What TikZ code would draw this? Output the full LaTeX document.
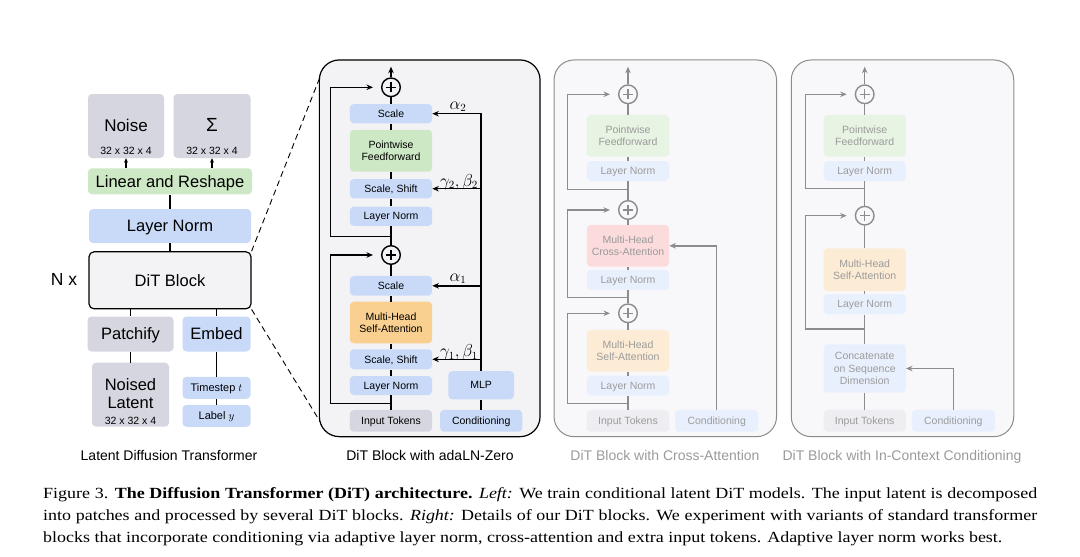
\documentclass[tikz,border=0pt]{standalone}
\usepackage{fontspec}
\setmainfont{Liberation Serif}
\setsansfont{Liberation Sans}
\newfontfamily\capfont{Liberation Serif}[FakeStretch=1.16]
\usetikzlibrary{arrows.meta}
\definecolor{tokgray}{RGB}{214,214,224}
\definecolor{normblue}{RGB}{201,218,249}
\definecolor{ffgreen}{RGB}{205,232,196}
\definecolor{attnorange}{RGB}{250,208,145}
\definecolor{panelfill}{RGB}{243,243,245}
\definecolor{fblue}{RGB}{233,240,253}
\definecolor{fgreen}{RGB}{231,243,227}
\definecolor{fred}{RGB}{251,219,219}
\definecolor{forange}{RGB}{252,236,214}
\definecolor{fgray}{RGB}{238,238,242}
\definecolor{fpanel}{RGB}{248,248,250}
\definecolor{fline}{RGB}{140,140,140}
\definecolor{ftext}{RGB}{155,155,155}
\newcommand{\sz}[1]{\fontsize{#1}{#1}\selectfont}

\begin{document}
\begin{tikzpicture}
[x=1pt,y=-1pt,
every node/.style={font=\sffamily},
base/.style={rounded corners=4pt,inner sep=0pt,align=center,text depth=0pt},
blkbig/.style={base,font=\sffamily\sz{16.5}},
blksmall/.style={base,minimum width=82.3,font=\sffamily\sz{10.5}},
faded/.style={blksmall,text=ftext},
lbl/.style={inner sep=0pt,text depth=0pt},
plus/.style={circle,draw=#1,line width=1.4pt,minimum size=18.6,inner sep=0pt,
  path picture={\draw[#1,line width=1.4pt]
    ([xshift=-5pt]path picture bounding box.center) -- ([xshift=5pt]path picture bounding box.center)
    ([yshift=-5pt]path picture bounding box.center) -- ([yshift=5pt]path picture bounding box.center);}},
plus/.default=black,
link/.style={line width=1.5pt},
arr/.style={link,-{Stealth[length=6.5pt,width=5.5pt]}},
flink/.style={link,draw=fline},
farr/.style={arr,draw=fline},
panel/.style={draw,line width=1.2pt,rounded corners=20pt,fill=panelfill,
  minimum width=220.7,minimum height=376.7},
fpanelbox/.style={panel,draw=fline,fill=fpanel,line width=1pt,minimum width=222.5},
zoomln/.style={dash pattern=on 6pt off 4pt,line width=0.9pt},
capt/.style={anchor=base west,inner sep=0pt,font=\capfont\sz{15.5}}]

\fill [white] (0,0) rectangle (1080,557);
\useasboundingbox (0,0) rectangle (1080,557);

% panels
\node (adaln) [panel] at (429.7,248.3) {};
\node (xpanel) [fpanelbox] at (665.3,248.3) {};
\node (ipanel) [fpanelbox] at (902.5,248.3) {};

% left column
\node (noise) [base,fill=tokgray,minimum width=76,minimum height=64] at (126,126) {};
\node (noiset) [lbl,font=\sffamily\sz{17}] at (126,125.7) {Noise};
\node (noised) [lbl,font=\sffamily\sz{10.5}] at (126,150.7) {32 x 32 x 4};
\node (sigma) [base,fill=tokgray,minimum width=77,minimum height=64] at (212,126) {};
\node (sigmat) [lbl,font=\sffamily\sz{19}] at (212,125) {Σ};
\node (sigmad) [lbl,font=\sffamily\sz{10.5}] at (212,150.7) {32 x 32 x 4};
\node (linear) [blkbig,fill=ffgreen,minimum width=164,minimum height=26] at (170,181.3) {Linear and Reshape};
\node (lnorm) [blkbig,fill=normblue,minimum width=162,minimum height=34] at (170,226) {Layer Norm};
\node (dit) [blkbig,draw,line width=1.2pt,fill=panelfill,minimum width=162,
  minimum height=57,rounded corners=5pt] at (170,280.3) {DiT Block};
\node (nx) [lbl,font=\sffamily\sz{17.5}] at (64,279.5) {N x};
\node (patch) [blkbig,fill=tokgray,minimum width=86,minimum height=35] at (130.5,334) {Patchify};
\node (embed) [blkbig,fill=normblue,minimum width=68,minimum height=35] at (216.5,334) {Embed};
\node (latent) [base,fill=tokgray,minimum width=77,minimum height=64] at (130.5,394.7) {};
\node (latent1) [lbl,font=\sffamily\sz{16.5}] at (130.5,385) {Noised};
\node (latent2) [lbl,font=\sffamily\sz{16.5}] at (130.5,403.3) {Latent};
\node (latentd) [lbl,font=\sffamily\sz{10.5}] at (130.5,420.8) {32 x 32 x 4};
\node (tstep) [base,fill=normblue,minimum width=68,minimum height=22,font=\sffamily\sz{11}]
  at (216.5,387.8) {Timestep $t$};
\node (label) [base,fill=normblue,minimum width=68,minimum height=22,font=\sffamily\sz{11}]
  at (216.5,415.8) {Label $y$};
\node (ltitle) [lbl,font=\sffamily\sz{14}] at (169,455) {Latent Diffusion Transformer};

\draw [arr,-{Stealth[length=4.5pt,width=4pt]}] (noise.south |- linear.north) -- (noise.south);
\draw [arr,-{Stealth[length=4.5pt,width=4pt]}] (sigma.south |- linear.north) -- (sigma.south);
\draw [link] (lnorm) -- (linear);
\draw [link] (dit) -- (lnorm);
\draw [link] (dit.south -| patch) -- (patch);
\draw [link] (dit.south -| embed) -- (embed);
\draw [link] (patch) -- (latent);
\draw [link] (embed) -- (tstep) -- (label);

\coordinate (ztop) at (320,77);
\coordinate (zbot) at (320,421.5);
\draw [zoomln] (dit.north east) -- (ztop);
\draw [zoomln] (dit.south east) -- (zbot);

% adaLN-Zero block
\node (plus2) [plus] at (391,87.3) {};
\node (scale2) [blksmall,fill=normblue,minimum height=19.3] at (391,113.7) {Scale};
\node (ffn) [blksmall,fill=ffgreen,minimum height=41.7] at (391,150.8) {Pointwise\\[2pt]Feedforward};
\node (shift2) [blksmall,fill=normblue,minimum height=19.3] at (391,188.7) {Scale, Shift};
\node (norm2) [blksmall,fill=normblue,minimum height=19.3] at (391,216.3) {Layer Norm};
\node (plus1) [plus] at (391,255) {};
\node (scale1) [blksmall,fill=normblue,minimum height=19.7] at (391,285.8) {Scale};
\node (attn) [blksmall,fill=attnorange,minimum height=41.6] at (391,322.5) {Multi-Head\\[2pt]Self-Attention};
\node (shift1) [blksmall,fill=normblue,minimum height=20] at (391,359.3) {Scale, Shift};
\node (norm1) [blksmall,fill=normblue,minimum height=19] at (391,385.5) {Layer Norm};
\node (tokens) [blksmall,fill=tokgray,minimum height=21.7] at (391,420.8) {Input Tokens};
\node (cond) [blksmall,fill=normblue,minimum height=21.7] at (481.2,420.8) {Conditioning};
\node (mlp) [blksmall,fill=normblue,minimum width=65.7,minimum height=28.3] at (481.2,385.2) {MLP};
\node (atitle) [lbl,font=\sffamily\sz{14}] at (430,455) {DiT Block with adaLN-Zero};

\draw [link] (tokens) -- (norm1) -- (shift1) -- (attn) -- (scale1) -- (plus1)
  -- (norm2) -- (shift2) -- (ffn) -- (scale2) -- (plus2);
\coordinate (out1) at (391,66.7);
\draw [arr] (plus2) -- (out1);
\coordinate (r1) at (391,403.3);
\coordinate (r2) at (391,236.7);
\draw [arr] (r1) -- ++(-60.3,0) |- ([xshift=-8pt]plus1.west);
\draw [arr] (r2) -- ++(-60.3,0) |- ([xshift=-8pt]plus2.west);
\draw [link] (cond) -- (mlp);
\draw [arr] (mlp.north) |- (scale2.east);
\draw [arr] (mlp.north |- shift2.east) -- (shift2.east);
\draw [arr] (mlp.north |- scale1.east) -- (scale1.east);
\draw [arr] (mlp.north |- shift1.east) -- (shift1.east);
\node (a2) [lbl,font=\sz{16}] at (458,105.5) {$\alpha_2$};
\node (gb2) [lbl,font=\sz{16}] at (459,180) {$\gamma_2,\beta_2$};
\node (a1) [lbl,font=\sz{16}] at (458,277.5) {$\alpha_1$};
\node (gb1) [lbl,font=\sz{16}] at (459,350.5) {$\gamma_1,\beta_1$};

% cross-attention block
\node (plusc3) [plus=fline] at (628,94.3) {};
\node (ffnc) [faded,fill=fgreen,minimum height=41.7] at (628,135.8) {Pointwise\\[2pt]Feedforward};
\node (normc3) [faded,fill=fblue,minimum height=20] at (628,171) {Layer Norm};
\node (plusc2) [plus=fline] at (628,210) {};
\node (cross) [faded,fill=fred,minimum height=41.7] at (628,245.8) {Multi-Head\\[2pt]Cross-Attention};
\node (normc2) [faded,fill=fblue,minimum height=20] at (628,280) {Layer Norm};
\node (plusc1) [plus=fline] at (628,313.3) {};
\node (selfc) [faded,fill=forange,minimum height=41.7] at (628,350.8) {Multi-Head\\[2pt]Self-Attention};
\node (normc1) [faded,fill=fblue,minimum height=20] at (628,385.7) {Layer Norm};
\node (tokc) [faded,fill=fgray,minimum height=21.7] at (628,420.8) {Input Tokens};
\node (condc) [faded,fill=fblue,minimum height=21.7,minimum width=83.3] at (716.7,420.8) {Conditioning};
\node (ctitle) [lbl,font=\sffamily\sz{14},text=ftext] at (665,455) {DiT Block with Cross-Attention};

\draw [flink] (tokc) -- (normc1) -- (selfc) -- (plusc1) -- (normc2) -- (cross)
  -- (plusc2) -- (normc3) -- (ffnc) -- (plusc3);
\coordinate (outc) at (628,66.7);
\draw [farr] (plusc3) -- (outc);
\coordinate (rc1) at (628,403.3);
\coordinate (rc2) at (628,297.3);
\coordinate (rc3) at (628,189.3);
\draw [farr] (rc1) -- ++(-60.7,0) |- ([xshift=-8pt]plusc1.west);
\draw [farr] (rc2) -- ++(-60.7,0) |- ([xshift=-8pt]plusc2.west);
\draw [farr] (rc3) -- ++(-60.7,0) |- ([xshift=-8pt]plusc3.west);
\draw [farr] (condc.north) |- (cross.east);

% in-context block
\node (plusi2) [plus=fline] at (864.7,94.3) {};
\node (ffni) [faded,fill=fgreen,minimum height=41.7] at (864.7,135.8) {Pointwise\\[2pt]Feedforward};
\node (normi2) [faded,fill=fblue,minimum height=20] at (864.7,171) {Layer Norm};
\node (plusi1) [plus=fline] at (864.7,215.7) {};
\node (selfi) [faded,fill=forange,minimum height=42.7] at (864.7,269.7) {Multi-Head\\[2pt]Self-Attention};
\node (normi1) [faded,fill=fblue,minimum height=20] at (864.7,304.3) {Layer Norm};
\node (concat) [faded,fill=fblue,minimum height=48.4] at (864.7,368.5) {Concatenate\\[2pt]on Sequence\\[2pt]Dimension};
\node (toki) [faded,fill=fgray,minimum height=21.7] at (864.7,420.8) {Input Tokens};
\node (condi) [faded,fill=fblue,minimum height=21.7,minimum width=83.3] at (953.3,420.8) {Conditioning};
\node (ititle) [lbl,font=\sffamily\sz{14},text=ftext] at (902,455) {DiT Block with In-Context Conditioning};

\draw [flink] (toki) -- (concat) -- (normi1) -- (selfi) -- (plusi1) -- (normi2)
  -- (ffni) -- (plusi2);
\coordinate (outi) at (864.7,66.7);
\draw [farr] (plusi2) -- (outi);
\coordinate (ri1) at (864.7,329);
\coordinate (ri2) at (864.7,188.3);
\draw [farr] (ri1) -- ++(-59,0) |- ([xshift=-8pt]plusi1.west);
\draw [farr] (ri2) -- ++(-59,0) |- ([xshift=-8pt]plusi2.west);
\draw [farr] (condi.north) |- (concat.east);

% figure caption
\node (fig1) [capt] at (43,498) {\makebox[994pt][s]{Figure 3. \textbf{The Diffusion Transformer (DiT) architecture.} \textit{Left:} We train conditional latent DiT models. The input latent is decomposed}};
\node (fig2) [capt] at (43,520) {\makebox[994pt][s]{into patches and processed by several DiT blocks. \textit{Right:} Details of our DiT blocks. We experiment with variants of standard transformer}};
\node (fig3) [capt] at (43,542) {blocks that incorporate conditioning via adaptive layer norm, cross-attention and extra input tokens. Adaptive layer norm works best.};
\end{tikzpicture}
\end{document}
